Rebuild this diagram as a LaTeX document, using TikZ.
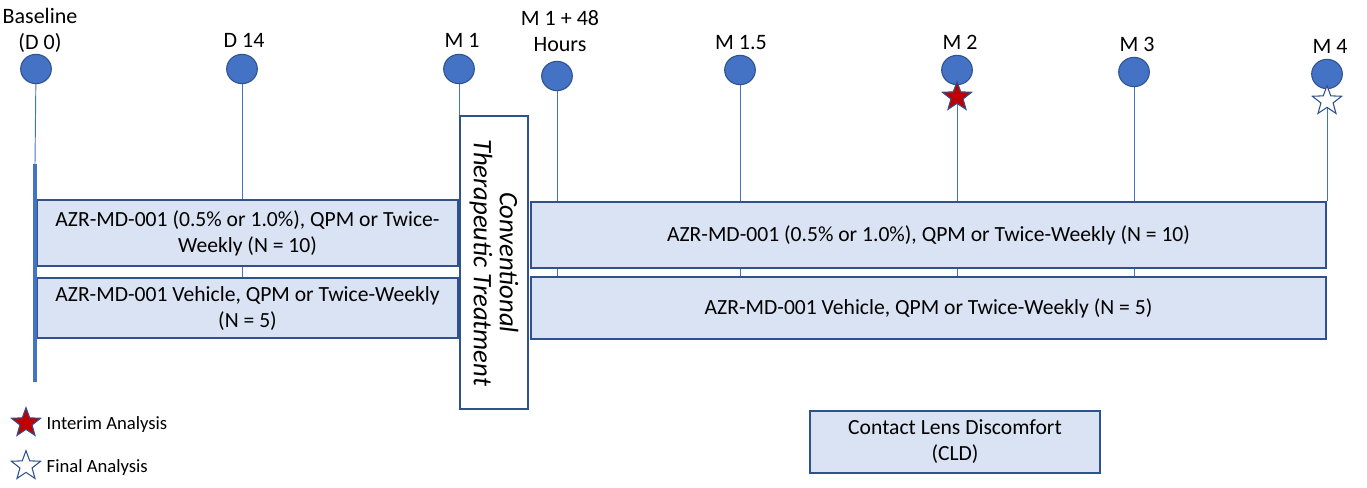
\documentclass[tikz,border=0pt]{standalone}
\usepackage{fontspec}
\setmainfont{Carlito}
\usetikzlibrary{shapes.geometric,backgrounds}
\definecolor{dotblue}{HTML}{4472C4}
\definecolor{edgeblue}{HTML}{2F528F}
\definecolor{boxfill}{HTML}{DAE3F3}
\definecolor{starred}{HTML}{C00000}
\tikzset{
  visit/.style={ellipse,draw=edgeblue,fill=dotblue,line width=0.8pt,minimum width=23pt,minimum height=22pt,inner sep=0pt},
  when/.style={align=center,font=\fontsize{16.5}{19.5}\selectfont},
  arm/.style={draw=edgeblue,fill=boxfill,line width=0.8pt,align=center,inner sep=0pt,font=\fontsize{16.2}{19.5}\selectfont},
  tick/.style={dotblue,line width=0.7pt},
  interim/.style={star,star points=5,star point ratio=2.4,minimum size=23pt,inner sep=0pt,draw=edgeblue,fill=starred,line width=0.8pt},
  final/.style={interim,fill=white},
  keytext/.style={anchor=west,font=\fontsize{14}{16}\selectfont}
}
\begin{document}
\begin{tikzpicture}[x=0.75pt,y=-0.75pt]
\useasboundingbox (0,0) rectangle (1367,487);
% visits
\node[visit] (d0) at (36,69) {};
\node[visit] (d14) at (242,69) {};
\node[visit] (m1) at (459,69) {};
\node[visit] (m1h) at (557,76) {};
\node[visit] (m15) at (740,70) {};
\node[visit] (m2) at (957,70) {};
\node[visit] (m3) at (1134,72) {};
\node[visit] (m4) at (1327,74) {};
\node[when] (d0l) at (40,30) {Baseline\\(D 0)};
\node[when] (d14l) at (244,40) {D 14};
\node[when] (m1l) at (462,40) {M 1};
\node[when] (m1hl) at (560,31) {M 1 + 48\\Hours};
\node[when] (m15l) at (741,42) {M 1.5};
\node[when] (m2l) at (960,42) {M 2};
\node[when] (m3l) at (1137,44) {M 3};
\node[when] (m4l) at (1330,46) {M 4};
% treatment arms
\node[arm,minimum width=315.75pt,minimum height=49.5pt] (lb1) at (247.5,233) {AZR-MD-001 (0.5\% or 1.0\%), QPM or Twice-\\Weekly (N = 10)};
\node[arm,minimum width=315.75pt,minimum height=45pt] (lb2) at (247.5,308) {AZR-MD-001 Vehicle, QPM or Twice-Weekly\\(N = 5)};
\node[arm,fill=white,rotate=-90,minimum width=219.75pt,minimum height=51pt,font=\fontsize{20}{19.5}\selectfont\itshape] (conv) at (494,262.5) {Conventional\\Therapeutic Treatment};
\node[arm,minimum width=596.25pt,minimum height=49.5pt] (rb1) at (928.5,235) {AZR-MD-001 (0.5\% or 1.0\%), QPM or Twice-Weekly (N = 10)};
\node[arm,minimum width=596.25pt,minimum height=46.5pt] (rb2) at (928.5,308) {AZR-MD-001 Vehicle, QPM or Twice-Weekly (N = 5)};
\node[arm,minimum width=217.5pt,minimum height=46.5pt] (cld) at (955,442) {Contact Lens Discomfort\\(CLD)};
\coordinate (bartop) at (35,164);
\coordinate (barbot) at (35,382);
% timeline ticks behind the boxes
\begin{scope}[on background layer]
\draw[tick] (d0) -- (bartop);
\draw[tick] (d14) -- (d14 |- lb2.south);
\draw[tick] (m1) -- (m1 |- conv.west);
\draw[tick] (m1h) -- (m1h |- rb2.south);
\draw[tick] (m15) -- (m15 |- rb2.south);
\draw[tick] (m2) -- (m2 |- rb2.south);
\draw[tick] (m3) -- (m3 |- rb2.south);
\draw[tick] (m4) -- (m4 |- rb1.north);
\end{scope}
\draw[dotblue,line width=3pt] (bartop) -- (barbot);
% analyses
\node[interim] (m2s) at (957,97) {};
\node[final] (m4s) at (1327,101) {};
\node[interim] (keyi) at (26,423) {};
\node[final] (keyf) at (26,466) {};
\node[keytext] (keyil) at (42,425) {Interim Analysis};
\node[keytext] (keyfl) at (42,468) {Final Analysis};
\end{tikzpicture}
\end{document}
